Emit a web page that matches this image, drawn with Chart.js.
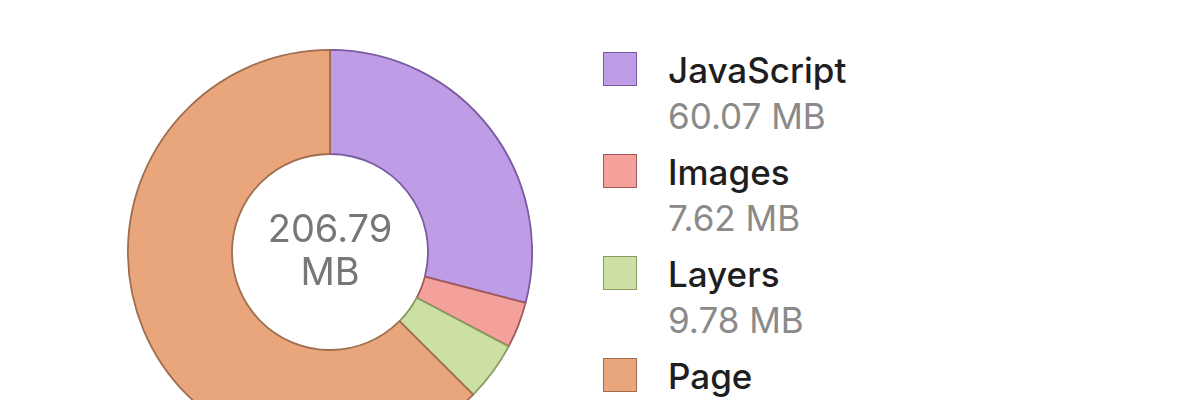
<!DOCTYPE html>
<html>
<head>
<meta charset="utf-8">
<script src="https://cdn.jsdelivr.net/npm/chart.js@4/dist/chart.umd.min.js"></script>
<style>
  html, body { margin:0; padding:0; width:1200px; height:400px; overflow:hidden; background:#fff; font-family: Inter, "Open Sans", sans-serif; }
  #wrap { position:absolute; left:127px; top:49px; width:406px; height:406px; }
  #center { position:absolute; left:230px; top:207px; width:200px; text-align:center; color:#777; font-size:38px; line-height:43px; }
  #legend { position:absolute; left:603px; top:52px; }
  .row { position:relative; height:102px; }
  .sw { position:absolute; left:0; top:0; width:32px; height:32px; border:1.5px solid; }
  .lab { position:absolute; left:65px; top:-2px; font-size:35px; font-weight:500; color:#1e1e1e; white-space:nowrap; line-height:40px; }
  .val { position:absolute; left:65px; top:44px; font-size:35px; color:#8a8a8a; white-space:nowrap; line-height:40px; }
</style>
</head>
<body>
<div id="wrap"><canvas id="c" width="406" height="406"></canvas></div>
<div id="center"></div>
<div id="legend"></div>
<script>
const categories = ["JavaScript", "Images", "Layers", "Page"];
const valuesMB = [60.07, 7.62, 9.78, 129.32];
const totalLabel = ["206.79", "MB"];
const fillColors = ["#bf9ce6", "#f4a19c", "#cde0a3", "#e9a67d"];
const borderColors = ["#7a5aa0", "#a05a5a", "#8a9a60", "#a06e4e"];

new Chart(document.getElementById('c'), {
  type: 'doughnut',
  data: {
    labels: categories,
    datasets: [{
      data: valuesMB,
      backgroundColor: fillColors,
      borderColor: borderColors,
      borderWidth: 1.8
    }]
  },
  options: {
    responsive: false,
    animation: false,
    cutout: '48.5%',
    layout: { padding: 0 },
    plugins: { legend: { display: false }, tooltip: { enabled: false } }
  }
});

document.getElementById('center').innerHTML = totalLabel.map(t => '<div>' + t + '</div>').join('');

const lg = document.getElementById('legend');
categories.forEach((name, i) => {
  const row = document.createElement('div');
  row.className = 'row';
  row.innerHTML = '<div class="sw" style="background:' + fillColors[i] + ';border-color:' + borderColors[i] + '"></div>' +
    '<div class="lab">' + name + '</div>' +
    '<div class="val">' + valuesMB[i].toFixed(2) + ' MB</div>';
  lg.appendChild(row);
});
</script>
</body>
</html>
